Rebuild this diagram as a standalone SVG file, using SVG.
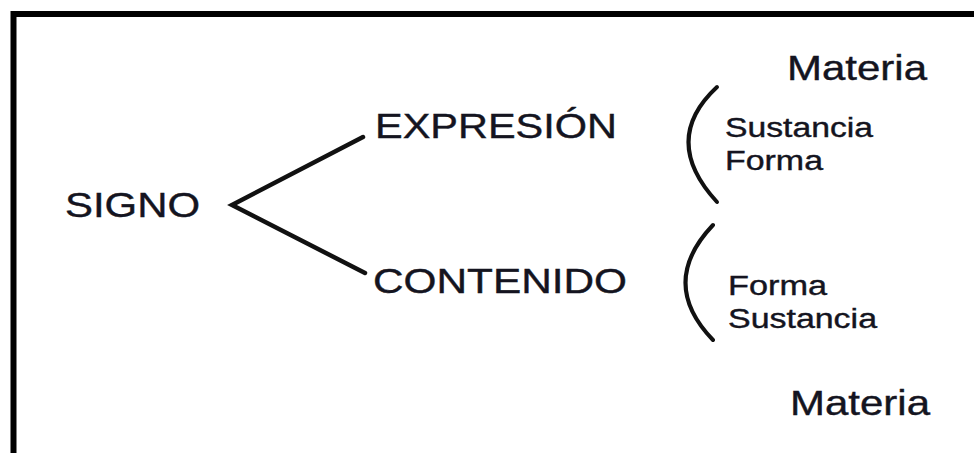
<svg xmlns="http://www.w3.org/2000/svg" width="974" height="453" viewBox="0 0 974 453">
  <style>
    text { font-family: "Liberation Sans", Arial, sans-serif; fill: #141420; stroke: #141420; stroke-width: 0.4; }
    .big { font-size: 35px; }
    .small { font-size: 27px; }
    .line { stroke: #111; stroke-width: 4.5; fill: none; stroke-linecap: round; }
    .brace { stroke: #111; stroke-width: 4; fill: none; stroke-linecap: round; }
  </style>
  <rect width="974" height="453" fill="#ffffff"/>
  <!-- outer frame, open past the right and bottom edges -->
  <rect x="13.5" y="14" width="1000" height="500" fill="none" stroke="#000" stroke-width="6"/>

  <g id="signo">
    <text class="big" x="65" y="217" textLength="135" lengthAdjust="spacingAndGlyphs">SIGNO</text>
  </g>
  <g id="expresion">
    <text class="big" x="375" y="138" textLength="242" lengthAdjust="spacingAndGlyphs">EXPRESIÓN</text>
  </g>
  <g id="contenido">
    <text class="big" x="373" y="293" textLength="254" lengthAdjust="spacingAndGlyphs">CONTENIDO</text>
  </g>
  <g id="expresion-planos">
    <text class="big" x="787" y="80" textLength="140" lengthAdjust="spacingAndGlyphs">Materia</text>
    <path class="brace" d="M717,87 Q660,140 717,202"/>
    <text class="small" x="725" y="137" textLength="148" lengthAdjust="spacingAndGlyphs">Sustancia</text>
    <text class="small" x="725" y="170" textLength="98" lengthAdjust="spacingAndGlyphs">Forma</text>
  </g>
  <g id="contenido-planos">
    <path class="brace" d="M713,225 Q658,283 713,340"/>
    <text class="small" x="728" y="295" textLength="99" lengthAdjust="spacingAndGlyphs">Forma</text>
    <text class="small" x="728" y="328" textLength="149" lengthAdjust="spacingAndGlyphs">Sustancia</text>
    <text class="big" x="790" y="415" textLength="140" lengthAdjust="spacingAndGlyphs">Materia</text>
  </g>

  <g id="connectors">
    <polyline class="line" points="363,137 232,205 365,273"/>
  </g>
</svg>
